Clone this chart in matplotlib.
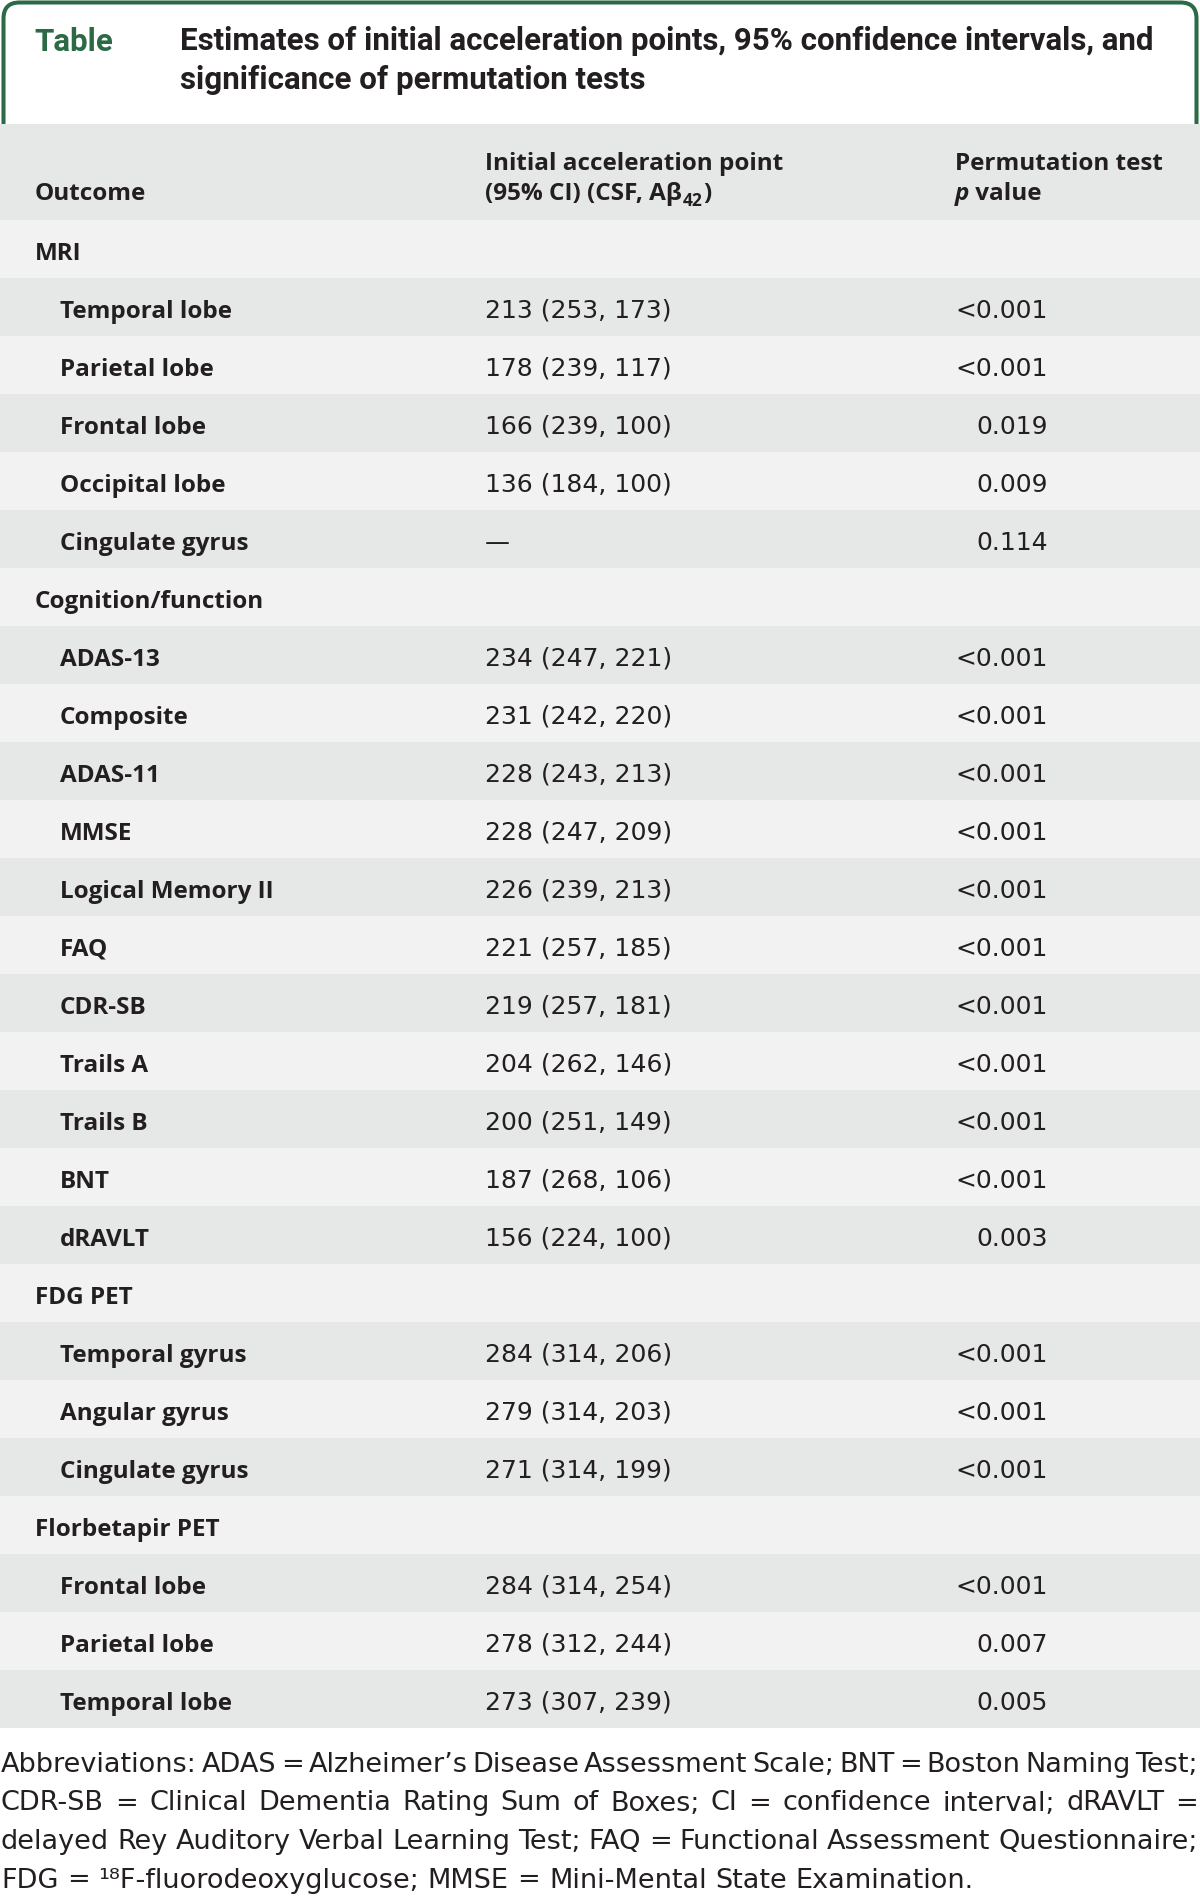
import matplotlib
matplotlib.use("Agg")
import matplotlib.pyplot as plt
from matplotlib.patches import Rectangle, FancyBboxPatch

# Table content
table_tag = "Table"
title_lines = ["Estimates of initial acceleration points, 95% confidence intervals, and",
               "significance of permutation tests"]
header_outcome = "Outcome"
header_point = ["Initial acceleration point", "(95% CI) (CSF, A\u03b2"]
header_point_sub = "42"
header_p = ["Permutation test", "p", " value"]

sections = ["MRI", "Cognition/function", "FDG PET", "Florbetapir PET"]

mri_outcomes = ["Temporal lobe", "Parietal lobe", "Frontal lobe", "Occipital lobe", "Cingulate gyrus"]
mri_point = [213, 178, 166, 136, None]
mri_ci_hi = [253, 239, 239, 184, None]
mri_ci_lo = [173, 117, 100, 100, None]
mri_p = ["<0.001", "<0.001", "0.019", "0.009", "0.114"]

cog_outcomes = ["ADAS-13", "Composite", "ADAS-11", "MMSE", "Logical Memory II", "FAQ",
                "CDR-SB", "Trails A", "Trails B", "BNT", "dRAVLT"]
cog_point = [234, 231, 228, 228, 226, 221, 219, 204, 200, 187, 156]
cog_ci_hi = [247, 242, 243, 247, 239, 257, 257, 262, 251, 268, 224]
cog_ci_lo = [221, 220, 213, 209, 213, 185, 181, 146, 149, 106, 100]
cog_p = ["<0.001"] * 10 + ["0.003"]

fdg_outcomes = ["Temporal gyrus", "Angular gyrus", "Cingulate gyrus"]
fdg_point = [284, 279, 271]
fdg_ci_hi = [314, 314, 314]
fdg_ci_lo = [206, 203, 199]
fdg_p = ["<0.001", "<0.001", "<0.001"]

flo_outcomes = ["Frontal lobe", "Parietal lobe", "Temporal lobe"]
flo_point = [284, 278, 273]
flo_ci_hi = [314, 312, 307]
flo_ci_lo = [254, 244, 239]
flo_p = ["<0.001", "0.007", "0.005"]

footnote_lines = [
    "Abbreviations: ADAS = Alzheimer\u2019s Disease Assessment Scale; BNT = Boston Naming Test;",
    "CDR-SB = Clinical Dementia Rating Sum of Boxes; CI = confidence interval; dRAVLT =",
    "delayed Rey Auditory Verbal Learning Test; FAQ = Functional Assessment Questionnaire;",
    "FDG = \u00b9\u2078F-fluorodeoxyglucose; MMSE = Mini-Mental State Examination.",
]

# Build the row list: (is_section, label, estimate text, p text)
groups = [
    (mri_outcomes, mri_point, mri_ci_hi, mri_ci_lo, mri_p),
    (cog_outcomes, cog_point, cog_ci_hi, cog_ci_lo, cog_p),
    (fdg_outcomes, fdg_point, fdg_ci_hi, fdg_ci_lo, fdg_p),
    (flo_outcomes, flo_point, flo_ci_hi, flo_ci_lo, flo_p),
]
rows = []
for name, (outs, pts, his, los, ps) in zip(sections, groups):
    rows.append((True, name, "", ""))
    for o, pt, hi, lo, p in zip(outs, pts, his, los, ps):
        est = "\u2014" if pt is None else f"{pt} ({hi}, {lo})"
        rows.append((False, o, est, p))

# Styles
green = "#2b6a45"
ink = "#231f20"
light_bg = "#f2f2f2"
dark_bg = "#e6e7e7"
label_font = dict(family=["Open Sans", "Roboto", "DejaVu Sans"], weight="bold", size=17.5, color=ink)
value_font = dict(family=["DejaVu Sans"], size=18, color=ink)
title_font = dict(family=["Roboto", "DejaVu Sans"], weight="bold", size=22.5, color=ink)
foot_font = dict(family=["DejaVu Sans"], size=19.5, color=ink)

W, H = 1200, 1904
fig = plt.figure(figsize=(W / 100, H / 100), dpi=100)
ax = fig.add_axes([0, 0, 1, 1])
ax.set_xlim(0, W)
ax.set_ylim(H, 0)
ax.axis("off")
fig.canvas.draw()
renderer = fig.canvas.get_renderer()


def width_of(t):
    return t.get_window_extent(renderer).width


# Title box with rounded top corners (bottom hidden under the header band)
box = FancyBboxPatch((3.5, 2.5), 1193, 170, boxstyle="round,pad=0,rounding_size=16",
                     fc="white", ec=green, lw=2.9, zorder=1)
ax.add_patch(box)
ax.text(34, 51, table_tag, color=green, weight="bold", size=22.5,
        family=["Roboto", "DejaVu Sans"], va="baseline", zorder=5)
ax.text(180, 50, title_lines[0], va="baseline", zorder=5, **title_font)
ax.text(180, 89, title_lines[1], va="baseline", zorder=5, **title_font)

# Column positions
x_section = 35
x_item = 60
x_value = 485
x_p_right = 1048
x_p_head = 955
top = 124
head_bottom = 220
row_h = 58

# Header band
ax.add_patch(Rectangle((0, top), W, head_bottom - top, fc=dark_bg, ec="none", zorder=2))
ax.text(x_section, 200, header_outcome, va="baseline", zorder=5, **label_font)
ax.text(x_value, 170, header_point[0], va="baseline", zorder=5, **label_font)
t2 = ax.text(x_value, 200, header_point[1], va="baseline", zorder=5, **label_font)
xs = x_value + width_of(t2)
sub_font = dict(label_font, size=12.5)
t3 = ax.text(xs + 1, 206, header_point_sub, va="baseline", zorder=5, **sub_font)
ax.text(xs + 2 + width_of(t3), 200, ")", va="baseline", zorder=5, **label_font)
ax.text(x_p_head, 170, header_p[0], va="baseline", zorder=5, **label_font)
tp = ax.text(x_p_head, 200, header_p[1], va="baseline", zorder=5, style="italic", **label_font)
ax.text(x_p_head + width_of(tp), 200, header_p[2], va="baseline", zorder=5, **label_font)

# Body rows
for i, (is_section, label, est, p) in enumerate(rows):
    y0 = head_bottom + i * row_h
    ax.add_patch(Rectangle((0, y0), W, row_h, fc=dark_bg if i % 2 else light_bg,
                           ec="none", zorder=2))
    yb = y0 + 39.5
    ax.text(x_section if is_section else x_item, yb, label, va="baseline", zorder=5, **label_font)
    if est:
        ax.text(x_value, yb, est, va="baseline", zorder=5, **value_font)
    if p:
        ax.text(x_p_right, yb, p, va="baseline", ha="right", zorder=5, **value_font)

# Footnote, justified to the full width except the last line
foot_left, foot_right = 1, 1198
foot_base = [1772, 1810.5, 1849, 1887.5]
sp_a = ax.text(0, 500, "x x", **foot_font)
sp_b = ax.text(0, 500, "xx", **foot_font)
space_w = width_of(sp_a) - width_of(sp_b)
sp_a.remove()
sp_b.remove()
for k, line in enumerate(footnote_lines):
    words = line.split(" ")
    texts = [ax.text(0, foot_base[k], w, va="baseline", zorder=5, **foot_font) for w in words]
    widths = [width_of(t) for t in texts]
    if k < len(footnote_lines) - 1:
        gap = (foot_right - foot_left - sum(widths)) / (len(words) - 1)
    else:
        gap = space_w
    x = foot_left
    for t, w in zip(texts, widths):
        t.set_x(x)
        x += w + gap

fig.savefig("out.png", dpi=100)
